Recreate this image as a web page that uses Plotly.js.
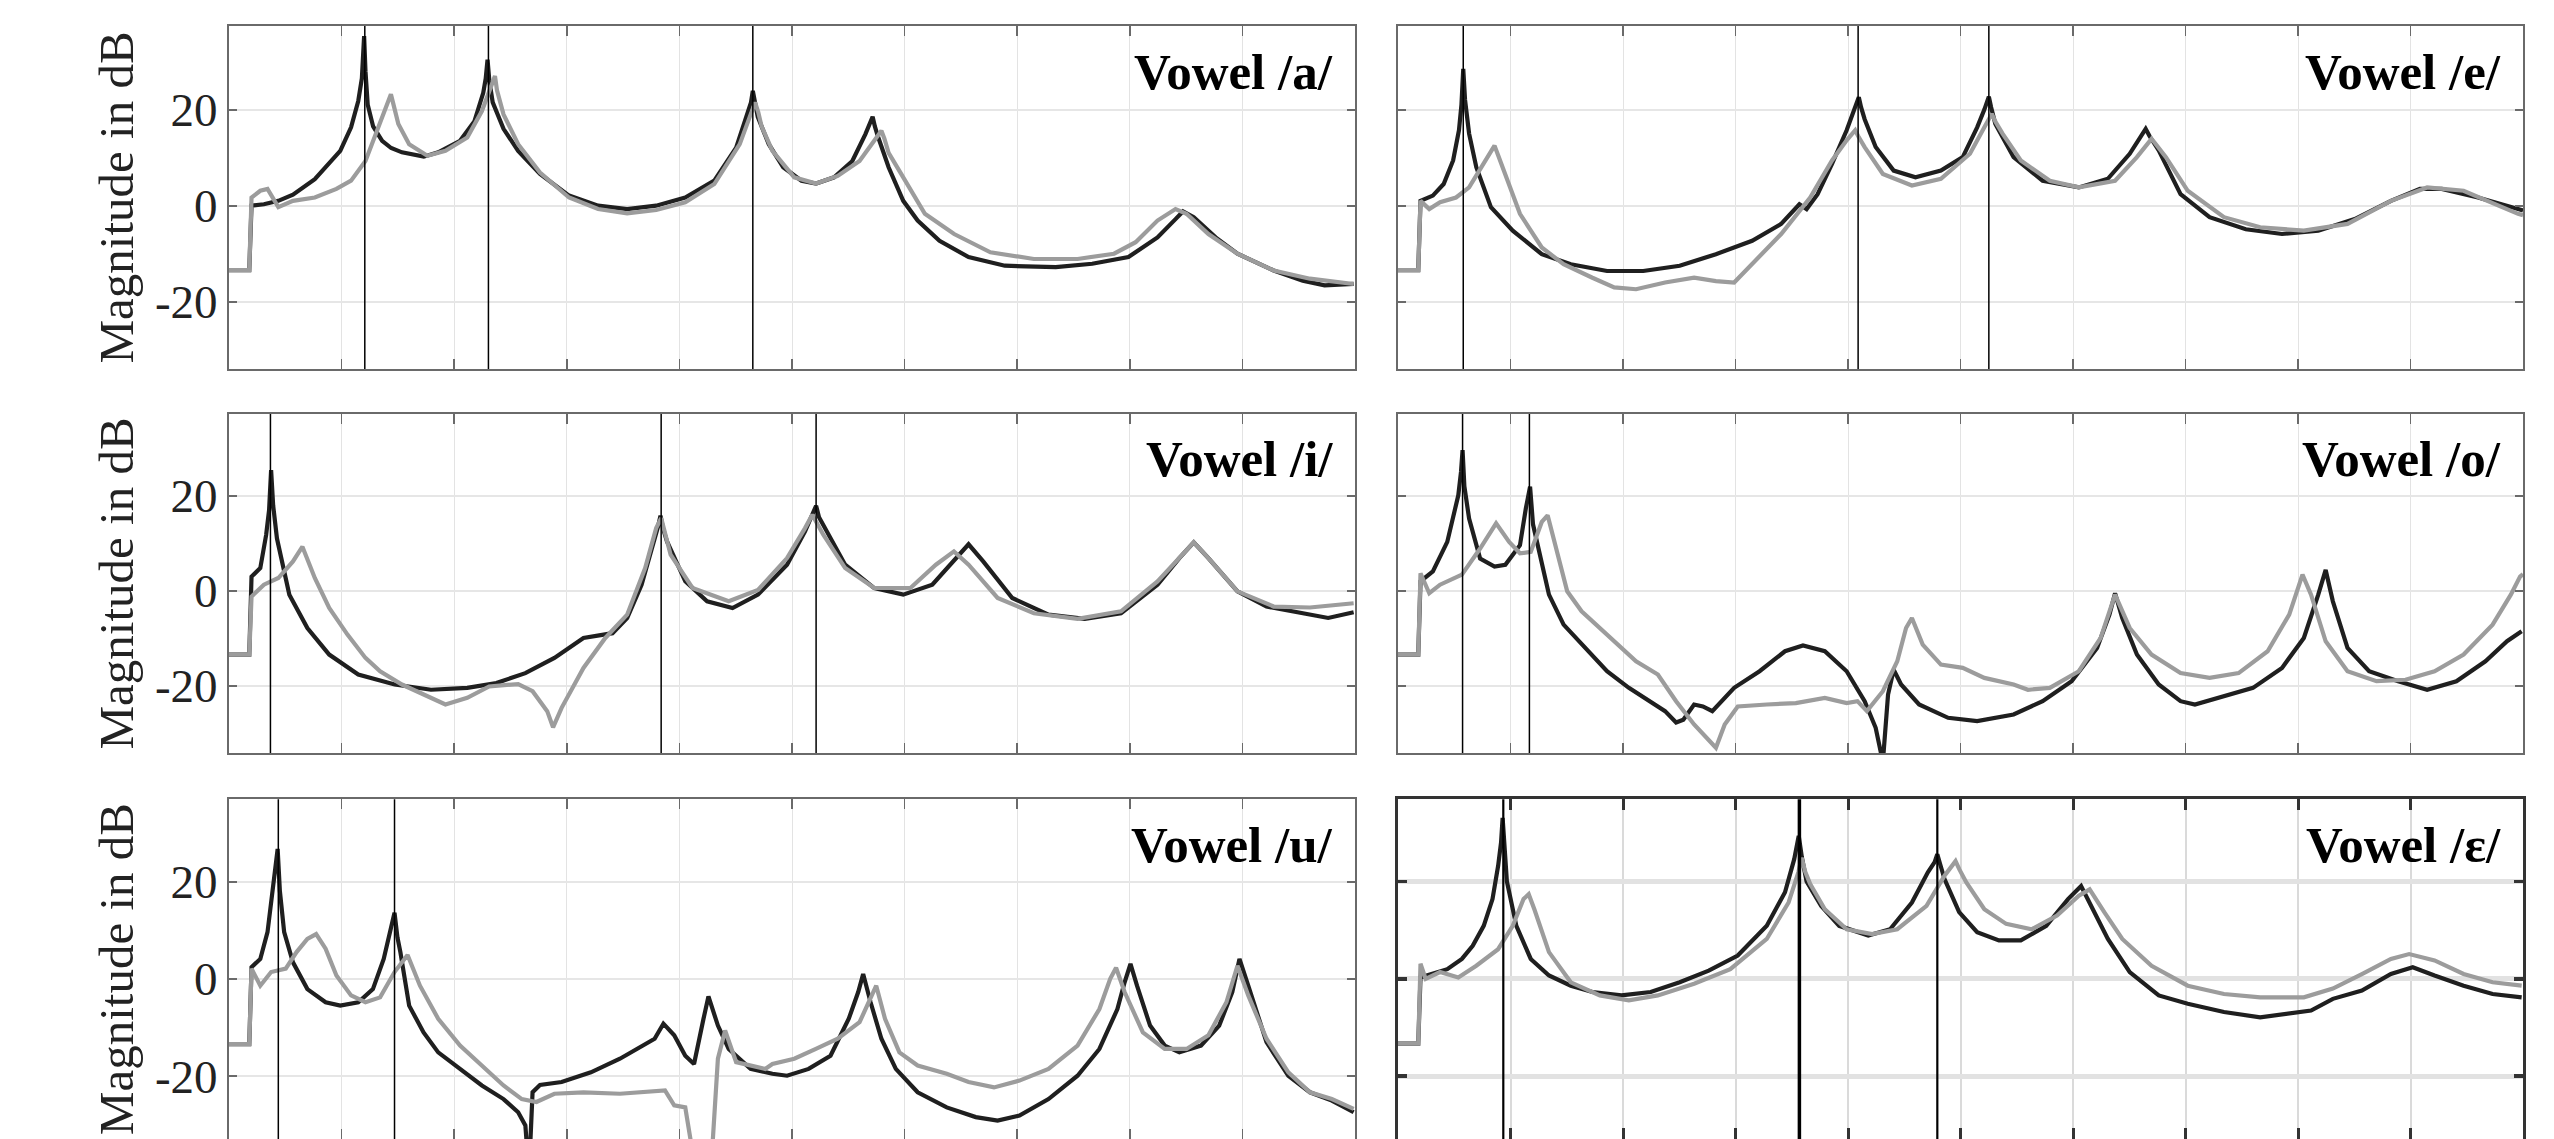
<!DOCTYPE html>
<html>
<head>
<meta charset="utf-8">
<script src="https://cdn.plot.ly/plotly-3.0.1.min.js"></script>
<style>html,body{margin:0;padding:0;background:#fff;}#chart{width:2554px;height:1139px;}</style>
</head>
<body>
<div id="chart"></div>
<script>
// ---------- DATA (frequency in Hz, magnitude in dB) ----------
const vowelTitles = ["Vowel /a/", "Vowel /e/", "Vowel /i/", "Vowel /o/", "Vowel /u/", "Vowel /ε/"];
const yTickVals = [-20, 0, 20];
const yTickText = ["-20", "0", "20"];
const yLabel = "Magnitude in dB";

// /a/
const aDarkF = [0,90,100,155,219,284,381,445,494,542,574,590,600,606,616,640,680,720,768,865,929,1026,1090,1129,1140,1148,1156,1171,1219,1284,1381,1510,1639,1768,1897,2026,2155,2252,2300,2318,2326,2334,2348,2397,2461,2542,2607,2687,2768,2826,2850,2858,2868,2881,2929,2994,3058,3155,3284,3445,3671,3833,3994,4123,4203,4236,4284,4381,4478,4639,4768,4865,4994];
const aDarkM = [-13.4,-13.4,0,0.3,1,2.3,5.5,8.7,11.4,16.3,21.8,26.5,35.3,28,21,16.5,13.5,12,11.1,10.2,11.1,13.5,17.6,23.5,26.5,30.4,26,21.5,16,11.4,6.6,2.1,0,-0.7,0,1.7,5.2,12.1,18.5,21.5,23.9,21.5,18.5,12.8,8,5.2,4.6,5.9,9.3,14.9,17.5,18.5,16.5,14.5,8,1,-3.1,-7.3,-10.7,-12.5,-12.8,-12.1,-10.7,-6.6,-2.8,-1.2,-2.4,-6.6,-10,-13.5,-15.6,-16.6,-16.3];
const aGrayF = [0,90,100,139,171,219,284,381,477,542,606,655,697,712,719,728,752,800,881,961,1058,1123,1161,1172,1181,1190,1219,1284,1381,1510,1639,1768,1897,2026,2155,2268,2316,2336,2350,2365,2413,2510,2607,2703,2800,2865,2897,2910,2929,2994,3090,3220,3381,3574,3768,3930,4026,4123,4203,4252,4349,4478,4639,4800,4994];
const aGrayM = [-13.4,-13.4,1.7,3.1,3.5,-0.3,1,1.7,3.5,5.2,9.3,15.6,20.5,22.5,23.2,21.5,17,12.8,10.4,11.4,14.2,19.7,24.6,26,27,24,19,12.8,6.9,1.7,-0.7,-1.6,-0.9,0.7,4.5,12.8,19,21.5,19.5,16.5,11.4,5.9,4.6,6.2,9.3,13.5,15.6,14,11,5.9,-1.7,-5.9,-9.7,-11.1,-11.1,-10,-7.6,-3.1,-0.7,-1.7,-5.9,-10,-13.5,-15.2,-16.3];
const aFormants = [603, 1152, 2326];

// /e/
const eDarkF = [0,90,100,155,203,245,271,282,290,298,316,348,413,510,639,768,929,1090,1252,1413,1574,1703,1784,1816,1865,1929,1994,2026,2040,2048,2058,2074,2123,2203,2300,2413,2510,2574,2606,2618,2626,2636,2655,2736,2865,3026,3155,3252,3310,3323,3340,3381,3478,3607,3768,3929,4090,4252,4413,4542,4639,4800,4978,5000];
const eDarkM = [-13.4,-13.4,1,2.1,4.5,9.4,15.7,21,28.5,22,15,8,-0.3,-5.2,-10.1,-12.2,-13.6,-13.6,-12.5,-10.1,-7.3,-3.8,0.3,-0.7,2.4,8.7,15.7,19.5,21.5,22.6,20.5,18,12.2,7.3,5.9,7.3,10.1,16.3,20,21.5,22.7,20.5,17,10.1,5.2,3.8,5.6,10.8,15,16,14.5,11.5,2.4,-2.4,-4.9,-5.9,-5.2,-2.8,1,3.5,3.5,1.7,-0.7,-1];
const eGrayF = [0,90,100,139,187,258,316,381,415,429,445,477,542,639,736,864,961,1058,1187,1316,1413,1494,1574,1703,1832,1929,1994,2032,2045,2074,2155,2284,2413,2542,2606,2639,2655,2687,2768,2897,3026,3187,3284,3349,3365,3413,3510,3671,3832,4026,4220,4413,4574,4736,4978,5000];
const eGrayM = [-13.4,-13.4,1,-0.7,0.7,1.7,3.8,8.7,11.5,12.5,10.5,6.6,-1.7,-8.7,-12.2,-15,-17,-17.4,-16,-15,-15.7,-16,-12.2,-5.9,1.7,9.4,13.6,15.7,14.5,12.2,6.6,4.2,5.6,10.8,16.3,19.1,17.5,15,9.4,5.2,3.8,5.2,10.1,13.9,13,10.1,3.1,-2.4,-4.5,-5.2,-3.8,1,3.8,3.1,-1.7,-2];
const eFormants = [290, 2045, 2626];

// /i/
const iDarkF = [0,90,100,139,165,178,187,196,213,240,268,348,445,574,736,897,1058,1187,1316,1445,1574,1703,1768,1832,1881,1905,1916,1928,1945,2026,2123,2236,2349,2478,2558,2590,2607,2620,2655,2736,2865,2994,3123,3219,3284,3349,3478,3639,3800,3961,4123,4220,4284,4349,4478,4607,4768,4881,4994];
const iDarkM = [-13.4,-13.4,3,4.8,11.8,17,25.4,18,11,5,-0.8,-7.8,-13.4,-17.6,-19.7,-20.8,-20.4,-19.4,-17.3,-14.1,-9.9,-8.9,-5.7,1.3,9,13.5,15.8,13,10.4,2,-2.2,-3.6,-0.8,5.5,12.5,16,17.9,15.5,12.5,5.5,0.6,-0.8,1.3,6.2,9.8,6.2,-1.5,-5,-5.9,-4.7,1.3,6.9,10.2,6.9,-0.1,-3.3,-4.7,-5.7,-4.5];
const iGrayF = [0,90,100,155,219,284,326,381,445,526,606,671,768,864,961,1058,1155,1284,1348,1413,1439,1477,1574,1671,1768,1848,1897,1919,1961,2058,2219,2349,2478,2558,2590,2639,2736,2865,3026,3139,3219,3284,3413,3574,3768,3961,4123,4284,4349,4478,4639,4800,4994];
const iGrayM = [-13.4,-13.4,-1.2,1.3,2.7,6.2,9.3,2.7,-3.6,-9.2,-14.1,-16.9,-19.7,-21.8,-23.9,-22.5,-20.1,-19.6,-21.1,-25.3,-28.7,-24.6,-16.2,-9.9,-5,4.8,13.2,15.3,7.6,0.6,-2.2,0.2,6.9,13.2,16,11.8,4.8,0.6,0.6,5.5,8.3,5.5,-1.5,-4.7,-5.9,-4.3,2,10.2,6.9,-0.1,-3.3,-3.5,-2.6];
const iFormants = [184, 1919, 2607];

// /o/
const oDarkF = [0,90,100,155,219,268,280,287,295,316,365,429,477,542,568,587,600,623,671,736,832,929,1026,1123,1187,1236,1268,1316,1355,1397,1494,1607,1720,1800,1897,1994,2074,2123,2155,2178,2203,2236,2316,2445,2574,2736,2865,2994,3107,3162,3187,3219,3284,3381,3478,3542,3639,3800,3929,4026,4090,4123,4155,4220,4316,4445,4574,4704,4833,4929,4994];
const oDarkM = [-13.4,-13.4,2,4.1,10.3,20.1,25,29.6,22,15.2,6.8,5.1,5.5,9.6,17.3,21.9,14,8.9,-0.8,-7.1,-12,-16.9,-20.4,-23.2,-25.3,-27.7,-27.1,-23.9,-24.3,-25.3,-20.4,-16.9,-12.7,-11.5,-12.7,-16.9,-23.2,-28.8,-36,-21.8,-16.6,-19.7,-23.9,-26.7,-27.4,-26,-23.2,-19,-12,-5,-0.5,-5.7,-13.4,-19.7,-23.2,-23.9,-22.5,-20.4,-16.2,-9.9,-0.8,4.4,-2.2,-12,-16.9,-19,-20.8,-19,-14.8,-10.6,-8.5];
const oGrayF = [0,90,100,139,187,284,365,436,494,542,590,639,665,703,752,816,897,961,1058,1155,1236,1316,1381,1413,1452,1510,1639,1768,1897,1994,2042,2084,2155,2219,2258,2284,2332,2413,2510,2606,2736,2800,2897,3026,3123,3187,3252,3349,3478,3607,3736,3865,3961,4020,4058,4123,4220,4349,4478,4607,4736,4865,4946,4987,5000];
const oGrayM = [-13.4,-13.4,3.7,-0.5,1.3,3.4,8.9,14.2,10.3,7.9,8.2,14.5,15.9,8.9,-0.1,-4.3,-7.8,-10.6,-14.8,-17.6,-23.2,-28.1,-31.6,-33,-28.1,-24.3,-23.9,-23.6,-22.5,-23.6,-23.2,-25.3,-21.1,-14.8,-7.8,-5.7,-11.3,-15.5,-16.2,-18.3,-19.7,-20.8,-20.4,-16.9,-9.9,-0.8,-7.8,-13.4,-17.3,-18.3,-17.3,-12.7,-5,3.4,-0.8,-10.6,-16.9,-19,-18.7,-16.9,-13.4,-7.1,-0.8,3,3.5];
const oFormants = [287, 584];

// /u/
const uDarkF = [0,90,100,139,171,194,208,216,226,245,284,348,429,494,574,639,687,719,735,748,761,800,864,929,1026,1123,1219,1284,1316,1332,1348,1381,1477,1607,1736,1832,1890,1929,1977,2026,2065,2107,2129,2171,2219,2316,2413,2478,2574,2671,2752,2794,2816,2849,2897,2961,3058,3187,3316,3413,3510,3639,3768,3865,3945,3977,4003,4032,4090,4155,4220,4316,4397,4455,4487,4526,4607,4704,4800,4897,4994];
const uDarkM = [-13.4,-13.4,2.4,4.1,9.6,17.8,23,26.7,18,9.6,3.4,-2.1,-4.8,-5.5,-4.8,-2.1,4.1,11,13.6,8.5,5.5,-5.5,-11,-15.1,-18.5,-21.9,-24.7,-27.4,-30.1,-40,-23.3,-21.8,-21.2,-19.2,-16.4,-13.7,-12.3,-9.2,-11.6,-15.8,-17.5,-8.2,-3.6,-9.6,-14.4,-18.5,-19.5,-19.9,-18.5,-15.8,-8.2,-2.7,1,-4.8,-12.3,-18.5,-23.3,-26.4,-28.4,-29.1,-28.1,-24.7,-19.9,-14.4,-6.2,-0.7,3.1,-1.4,-9.6,-13.7,-15.1,-13.7,-9.6,-2.7,4.1,-1.4,-13,-19.9,-23.3,-25,-27.4];
const uGrayF = [0,90,100,139,187,252,300,348,387,429,477,542,606,671,735,793,848,929,1026,1123,1219,1300,1365,1445,1574,1736,1897,1936,1977,2026,2074,2139,2171,2203,2252,2316,2381,2413,2510,2606,2703,2800,2849,2874,2913,2977,3058,3187,3284,3397,3510,3639,3768,3865,3913,3939,3977,4058,4155,4252,4349,4429,4478,4526,4607,4704,4800,4897,4994];
const uGrayM = [-13.4,-13.4,2.1,-1.4,1.4,2.1,5.5,8.2,9.2,6.2,0.7,-3.4,-4.8,-3.8,1.4,4.9,-1.4,-8.2,-13.7,-17.8,-21.9,-24.7,-25.3,-23.6,-23.3,-23.6,-23.2,-22.9,-26,-26.4,-40,-40,-16.4,-10.6,-17.1,-17.8,-18.5,-17.5,-16.4,-14.4,-12.3,-8.9,-4.1,-1.4,-8.2,-15.1,-17.8,-19.5,-21.2,-22.3,-20.9,-18.5,-13.7,-6.2,0,2.3,-2.7,-11,-14.4,-14.4,-11.6,-4.8,2.7,-3.4,-12.3,-19.2,-23.3,-24.7,-26.7];
const uFormants = [219, 735];

// /ε/
const epsDarkF = [0,90,100,155,219,284,332,381,420,445,458,465,472,484,526,590,671,768,864,993,1123,1252,1381,1510,1639,1720,1761,1781,1795,1816,1881,1961,2090,2187,2284,2355,2385,2397,2410,2429,2494,2574,2671,2768,2881,2978,3036,3074,3155,3252,3381,3510,3671,3832,3961,4058,4155,4284,4413,4510,4607,4736,4865,4994];
const epsDarkM = [-13.3,-13.3,0.3,1,2,4.1,6.8,10.9,16.4,23.2,28,33.1,27,20,10.9,4.1,0.7,-1.4,-2.7,-3.4,-2.7,-0.7,1.7,4.8,10.9,17.8,24.6,29.4,25,20,15,10.9,8.9,10.2,15.7,21.9,24,25.6,23.5,20.5,13.7,9.6,7.9,7.9,10.9,16.4,19.1,15.7,8.2,1.4,-3.4,-5.1,-6.8,-7.9,-7.2,-6.5,-4.1,-2.4,1,2.4,0.7,-1.4,-3.1,-3.8];
const epsGrayF = [0,90,100,123,187,268,348,445,510,558,581,606,671,768,897,1026,1155,1316,1477,1639,1736,1780,1794,1810,1832,1897,1994,2107,2219,2349,2429,2465,2478,2495,2526,2606,2703,2816,2929,3026,3074,3139,3219,3349,3510,3671,3832,4026,4155,4284,4413,4494,4607,4736,4865,4994];
const epsGrayM = [-13.3,-13.3,3.1,0,1.4,0.3,2.7,6.1,10.9,16.4,17.4,14.3,5.5,-0.7,-3.4,-4.4,-3.4,-1,2,8.2,15.7,22,24.9,22,19.5,14.3,10.2,9.2,10.2,15,21.2,23.5,24.2,22.5,19.8,14.3,11.3,10.2,13,17.1,18.4,13.7,8.2,2.7,-1.4,-3.1,-3.8,-3.8,-2,1,4.1,5.1,3.8,1,-0.7,-1.4];
const epsFormants = [468, 1784, 2397];

// ---------- BUILD ----------
const panels = [
  {title: vowelTitles[0], dF: aDarkF, dM: aDarkM, gF: aGrayF, gM: aGrayM, fm: aFormants},
  {title: vowelTitles[1], dF: eDarkF, dM: eDarkM, gF: eGrayF, gM: eGrayM, fm: eFormants},
  {title: vowelTitles[2], dF: iDarkF, dM: iDarkM, gF: iGrayF, gM: iGrayM, fm: iFormants},
  {title: vowelTitles[3], dF: oDarkF, dM: oDarkM, gF: oGrayF, gM: oGrayM, fm: oFormants},
  {title: vowelTitles[4], dF: uDarkF, dM: uDarkM, gF: uGrayF, gM: uGrayM, fm: uFormants},
  {title: vowelTitles[5], dF: epsDarkF, dM: epsDarkM, gF: epsGrayF, gM: epsGrayM, fm: epsFormants}
];

const W = 2554, H = 1139;
const colPx = [[229, 1355], [1398, 2523]];
const rowPx = [[26, 369], [414, 753], [799.3, 1139]];
const rowRanges = [[-34.0, 37.4], [-34.1, 37.2], [-32.9, 36.9]];

const DARK = "#1f1f1f", GRAY = "#9c9c9c";
const traces = [], shapes = [], annotations = [];
const layout = {
  width: W, height: H,
  margin: {l: 0, r: 0, t: 0, b: 0},
  paper_bgcolor: "#ffffff", plot_bgcolor: "#ffffff",
  showlegend: false,
  font: {family: "Liberation Serif, Times New Roman, serif", color: "#222"}
};

panels.forEach((p, i) => {
  const r = Math.floor(i / 2), c = i % 2;
  const idx = i === 0 ? "" : String(i + 1);
  const xa = "x" + idx, ya = "y" + idx;
  const special = (i === 5);
  traces.push({x: p.dF, y: p.dM, xaxis: xa, yaxis: ya, type: "scatter", mode: "lines",
    line: {color: DARK, width: 4.2, shape: "linear"}, hoverinfo: "skip"});
  traces.push({x: p.gF, y: p.gM, xaxis: xa, yaxis: ya, type: "scatter", mode: "lines",
    line: {color: GRAY, width: 4.2, shape: "linear"}, hoverinfo: "skip"});
  const lineCol = special ? "#333333" : "#6a6a6a";
  layout["xaxis" + idx] = {
    domain: [colPx[c][0] / W, colPx[c][1] / W],
    anchor: ya, range: [0, 5000], dtick: 500, tick0: 0,
    showticklabels: false, ticks: "inside", ticklen: special ? 11 : 10,
    tickwidth: special ? 3 : 1.5, tickcolor: lineCol,
    showline: true, linecolor: lineCol, linewidth: special ? 3 : 2, mirror: "ticks",
    showgrid: true, gridcolor: special ? "#dadada" : "#e3e3e3", gridwidth: special ? 2 : 1,
    zeroline: false, fixedrange: true
  };
  layout["yaxis" + idx] = {
    domain: [1 - rowPx[r][1] / H, 1 - rowPx[r][0] / H],
    anchor: xa, range: rowRanges[r],
    tickvals: yTickVals, ticktext: yTickText,
    showticklabels: c === 0, ticks: "inside", ticklen: special ? 9 : 8,
    tickwidth: special ? 3.5 : 2, tickcolor: lineCol,
    ticklabelstandoff: 0,
    tickfont: {family: "Liberation Serif, Times New Roman, serif", size: 47, color: "#222"},
    showline: true, linecolor: lineCol, linewidth: special ? 3 : 2, mirror: "ticks",
    showgrid: true, gridcolor: special ? "#e2e2e2" : "#e6e6e6", gridwidth: special ? 5 : 2,
    zeroline: false, fixedrange: true
  };
  p.fm.forEach((f, k) => {
    shapes.push({type: "line", xref: xa, yref: ya + " domain", x0: f, x1: f, y0: 0, y1: 1,
      line: {color: "#000", width: special ? (k === 1 ? 3.5 : 2.2) : 1.5}, layer: "above"});
  });
  annotations.push({xref: xa + " domain", yref: ya + " domain", x: 0.982, y: 0.866,
    xanchor: "right", yanchor: "middle", showarrow: false, text: "<b>" + p.title + "</b>",
    font: {family: "Liberation Serif, Times New Roman, serif", size: 51, color: "#000"}});
  if (c === 0) {
    annotations.push({xref: "paper", yref: "paper", x: 116 / W,
      y: 1 - (rowPx[r][0] + rowPx[r][1]) / 2 / H, xanchor: "center", yanchor: "middle",
      textangle: -90, showarrow: false, text: yLabel,
      font: {family: "Liberation Serif, Times New Roman, serif", size: 49, color: "#222"}});
  }
});
layout.shapes = shapes;
layout.annotations = annotations;

Plotly.newPlot("chart", traces, layout, {staticPlot: true, displayModeBar: false});
</script>
</body>
</html>
